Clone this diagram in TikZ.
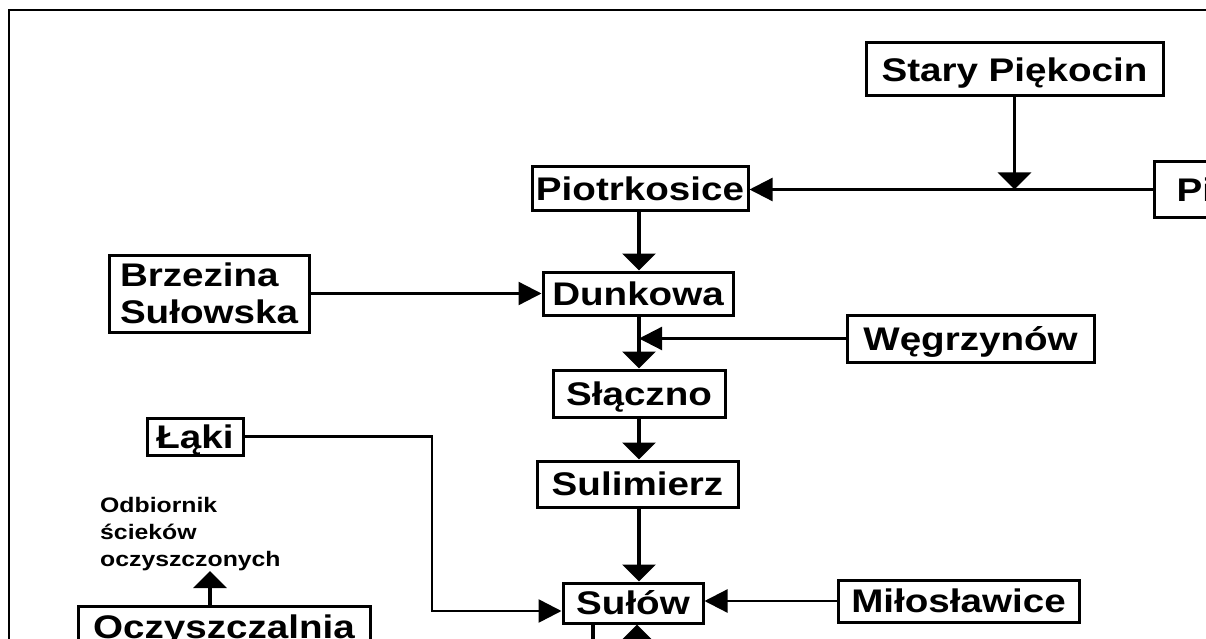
\documentclass[tikz,border=0pt]{standalone}
\usepackage{fontspec}
\newfontfamily\lab[FakeStretch=1.18]{Liberation Sans}
\usetikzlibrary{arrows.meta}
\begin{document}
\begin{tikzpicture}[x=1pt,y=-1pt,
  box/.style={draw, line width=3pt, inner sep=0pt, font=\lab\bfseries\fontsize{32.7}{37}\selectfont},
  one/.style={text height=23.4pt, text depth=0pt},
  vline/.style={line width=3.6pt},
  hline/.style={line width=2.3pt},
  varrow/.style={vline, -{Triangle[length=17pt,width=33pt]}},
  harrow/.style={hline, -{Triangle[length=23pt,width=23pt]}},
  small/.style={font=\lab\bfseries\fontsize{21}{27}\selectfont, inner sep=0pt, align=left}]
\useasboundingbox (0,0) rectangle (1206,639);
\clip (0,0) rectangle (1206,639);
\fill[white] (0,0) rectangle (1206,639);
\draw[line width=2.5pt] (9,10) rectangle (1400,900);

\node[box,one,minimum width=297pt,minimum height=53pt] (stary) at (1014.5,69.5) {Stary Piękocin};
\node[box,one,anchor=west,minimum height=55pt,inner xsep=22pt] (pi) at (1153,189.5) {Piękocin};
\node[box,one,minimum width=216pt,minimum height=43pt] (piotr) at (640,188.5) {Piotrkosice};
\node[box,minimum width=200pt,minimum height=77pt,align=left] (brz) at (209,293.5) {Brzezina\\Sułowska};
\node[box,one,minimum width=190pt,minimum height=43pt] (dunk) at (638,293.5) {Dunkowa};
\node[box,one,minimum width=247pt,minimum height=47pt] (weg) at (970.5,338.5) {Węgrzynów};
\node[box,one,minimum width=172pt,minimum height=47pt] (slacz) at (639,393.5) {Słączno};
\node[box,one,minimum width=96pt,minimum height=37pt] (laki) at (195,436.5) {Łąki};
\node[box,one,minimum width=201pt,minimum height=46pt] (sulim) at (637.5,484) {Sulimierz};
\node[box,one,minimum width=140pt,minimum height=40pt] (sulow) at (633,603) {Sułów};
\node[box,one,minimum width=241pt,minimum height=42pt] (milo) at (958.5,601) {Miłosławice};
\node[box,one,minimum width=292pt,minimum height=41pt] (oczy) at (224,626.5) {Oczyszczalnia};
\node[small,anchor=north west] (odb) at (100,497.5) {Odbiornik\\ścieków\\oczyszczonych};

\coordinate (col) at (639,0);
\draw[varrow] (stary.south) -- (stary.south |- pi.west);
\draw[harrow] (pi.west) -- (pi.west -| piotr.east);
\draw[varrow] (col |- piotr.south) -- (col |- dunk.north);
\draw[harrow] (brz.east) -- (dunk.west);
\draw[varrow] (col |- dunk.south) -- (col |- slacz.north);
\draw[harrow] (weg.west) -- (weg.west -| col);
\draw[varrow] (col |- slacz.south) -- (col |- sulim.north);
\draw[varrow] (col |- sulim.south) -- (col |- sulow.north);
\coordinate (lk) at (432,611);
\draw[harrow, line width=2.6pt] (laki.east) -| (lk) -- (lk -| sulow.west);
\draw[harrow] (milo.west) -- (milo.west -| sulow.east);
\coordinate (b1) at (593,660);
\coordinate (b2) at (637,660);
\draw[vline] (b1 |- sulow.south) -- (b1);
\draw[varrow] (b2) -- (b2 |- sulow.south);
\coordinate (oc) at (210,571);
\draw[varrow] (oc |- oczy.north) -- (oc);
\end{tikzpicture}
\end{document}
